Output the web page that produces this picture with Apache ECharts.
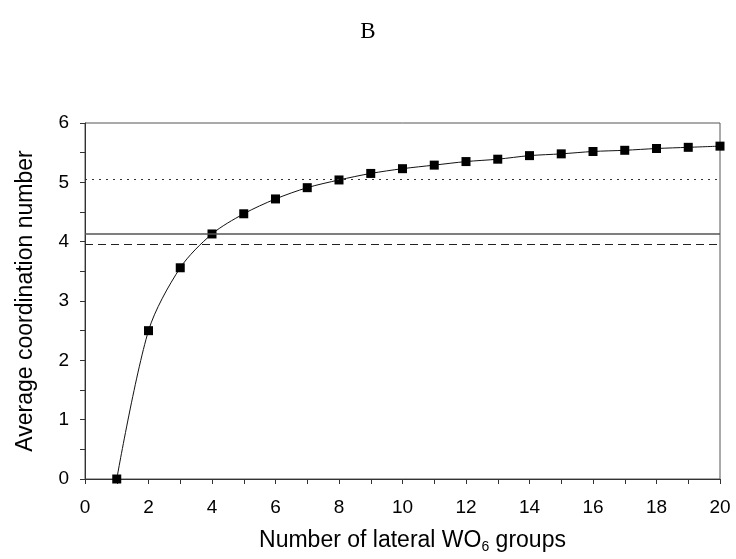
<!DOCTYPE html>
<html>
<head>
<meta charset="utf-8">
<script src="https://cdn.jsdelivr.net/npm/echarts@6/dist/echarts.min.js"></script>
<style>
  html, body { margin: 0; padding: 0; background: #fff; }
  #main { width: 736px; height: 559px; }
</style>
</head>
<body>
<div id="main"></div>
<script>
var dom = document.getElementById('main');
var myChart = echarts.init(dom);

// number of lateral WO6 groups
const groups = [1, 2, 3, 4, 5, 6, 7, 8, 9, 10, 11, 12, 13, 14, 15, 16, 17, 18, 19, 20];
// average coordination number
const coordination = [0, 2.50, 3.56, 4.13, 4.47, 4.72, 4.91, 5.04, 5.15, 5.23,
  5.29, 5.35, 5.39, 5.45, 5.48, 5.52, 5.54, 5.57, 5.59, 5.61];
// reference levels: dotted, solid, dashed
const refDotted = 5.06;
const refSolid = 4.13;
const refDashed = 3.95;

const points = groups.map(function (g, i) { return [g, coordination[i]]; });

var option = {
  animation: false,
  title: {
    text: 'B',
    left: 'center',
    top: 15,
    textStyle: { fontFamily: 'Liberation Serif', fontSize: 23, fontWeight: 'normal', color: '#000' }
  },
  grid: {
    left: 85, right: 16, top: 123, bottom: 80,
    show: true, borderColor: '#555', borderWidth: 1
  },
  xAxis: {
    type: 'value',
    min: 0, max: 20, interval: 2,
    name: '{n|Number of lateral WO}{s|6}{n| groups}',
    nameLocation: 'middle',
    nameGap: 49,
    nameTextStyle: {
      padding: [0, 0, 0, 20],
      rich: {
        n: { fontFamily: 'Liberation Sans', fontSize: 23, color: '#000' },
        s: { fontFamily: 'Liberation Sans', fontSize: 14, color: '#000', padding: [12, 0, 0, 0] }
      }
    },
    axisLine: { lineStyle: { color: '#333', width: 1 } },
    axisTick: { show: true, length: 5, inside: false, lineStyle: { color: '#333' } },
    minorTick: { show: true, splitNumber: 2, length: 5, lineStyle: { color: '#333' } },
    axisLabel: { fontFamily: 'Liberation Sans', fontSize: 19, color: '#000', margin: 19 },
    splitLine: { show: false }
  },
  yAxis: {
    type: 'value',
    min: 0, max: 6, interval: 1,
    name: 'Average coordination number',
    nameLocation: 'middle',
    nameGap: 48,
    nameTextStyle: { fontFamily: 'Liberation Sans', fontSize: 23, color: '#000' },
    axisLine: { show: true, lineStyle: { color: '#333', width: 1 } },
    axisTick: { show: true, length: 5, lineStyle: { color: '#333' } },
    minorTick: { show: true, splitNumber: 2, length: 5, lineStyle: { color: '#333' } },
    axisLabel: { fontFamily: 'Liberation Sans', fontSize: 19, color: '#000', margin: 16 },
    splitLine: { show: false }
  },
  series: [
    {
      type: 'line',
      data: points,
      smooth: 0.3,
      symbol: 'rect',
      symbolSize: 9,
      itemStyle: { color: '#000' },
      lineStyle: { color: '#111', width: 1 },
      markLine: {
        silent: true,
        symbol: ['none', 'none'],
        label: { show: false },
        data: [
          { yAxis: refDotted, lineStyle: { type: [2, 5], color: '#333', width: 1.2 } },
          { yAxis: refSolid, lineStyle: { type: 'solid', color: '#555', width: 1.5 } },
          { yAxis: refDashed, lineStyle: { type: [8, 5], color: '#222', width: 1.2 } }
        ]
      },
      z: 3
    }
  ]
};

if (option && typeof option === 'object') {
  myChart.setOption(option);
}
</script>
</body>
</html>
